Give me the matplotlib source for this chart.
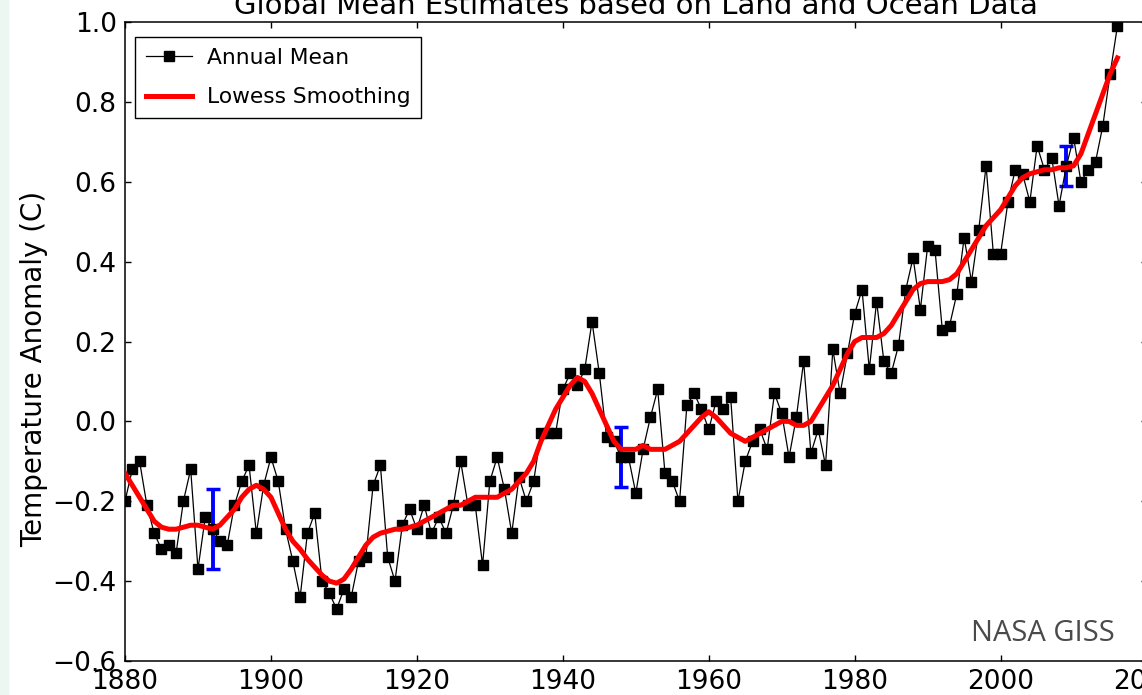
import matplotlib
matplotlib.use("Agg")
import matplotlib.pyplot as plt
from matplotlib.patches import Rectangle

# GISTEMP land-ocean annual means, 1880-2016 (deg C anomaly)
years = list(range(1880, 2017))
annual_mean = [
    -0.20, -0.12, -0.10, -0.21, -0.28, -0.32, -0.31, -0.33, -0.20, -0.12,
    -0.37, -0.24, -0.27, -0.30, -0.31, -0.21, -0.15, -0.11, -0.28, -0.16,
    -0.09, -0.15, -0.27, -0.35, -0.44, -0.28, -0.23, -0.40, -0.43, -0.47,
    -0.42, -0.44, -0.35, -0.34, -0.16, -0.11, -0.34, -0.40, -0.26, -0.22,
    -0.27, -0.21, -0.28, -0.24, -0.28, -0.21, -0.10, -0.21, -0.21, -0.36,
    -0.15, -0.09, -0.17, -0.28, -0.14, -0.20, -0.15, -0.03, -0.03, -0.03,
    0.08, 0.12, 0.09, 0.13, 0.25, 0.12, -0.04, -0.05, -0.09, -0.09,
    -0.18, -0.07, 0.01, 0.08, -0.13, -0.15, -0.20, 0.04, 0.07, 0.03,
    -0.02, 0.05, 0.03, 0.06, -0.20, -0.10, -0.05, -0.02, -0.07, 0.07,
    0.02, -0.09, 0.01, 0.15, -0.08, -0.02, -0.11, 0.18, 0.07, 0.17,
    0.27, 0.33, 0.13, 0.30, 0.15, 0.12, 0.19, 0.33, 0.41, 0.28,
    0.44, 0.43, 0.23, 0.24, 0.32, 0.46, 0.35, 0.48, 0.64, 0.42,
    0.42, 0.55, 0.63, 0.62, 0.55, 0.69, 0.63, 0.66, 0.54, 0.64,
    0.71, 0.60, 0.63, 0.65, 0.74, 0.87, 0.99,
]
lowess = [
    -0.13, -0.16, -0.19, -0.22, -0.25, -0.265, -0.27, -0.27, -0.265, -0.26,
    -0.26, -0.265, -0.27, -0.26, -0.24, -0.22, -0.19, -0.17, -0.16, -0.17,
    -0.19, -0.23, -0.27, -0.30, -0.32, -0.345, -0.365, -0.385, -0.40, -0.405,
    -0.395, -0.37, -0.34, -0.31, -0.29, -0.28, -0.275, -0.27, -0.27, -0.265,
    -0.26, -0.25, -0.24, -0.23, -0.22, -0.21, -0.21, -0.20, -0.19, -0.19,
    -0.19, -0.19, -0.18, -0.17, -0.15, -0.13, -0.10, -0.05, -0.01, 0.03,
    0.06, 0.09, 0.11, 0.10, 0.07, 0.03, -0.01, -0.05, -0.07, -0.07,
    -0.07, -0.06, -0.07, -0.07, -0.07, -0.06, -0.05, -0.03, -0.01, 0.01,
    0.024, 0.01, -0.01, -0.03, -0.04, -0.05, -0.04, -0.03, -0.02, -0.01,
    0.00, 0.00, -0.01, -0.01, 0.00, 0.03, 0.06, 0.09, 0.13, 0.17,
    0.20, 0.21, 0.21, 0.21, 0.22, 0.24, 0.27, 0.30, 0.33, 0.345,
    0.35, 0.35, 0.35, 0.355, 0.37, 0.40, 0.43, 0.46, 0.49, 0.51,
    0.53, 0.56, 0.59, 0.61, 0.62, 0.625, 0.63, 0.63, 0.635, 0.635,
    0.64, 0.67, 0.72, 0.77, 0.82, 0.87, 0.91,
]

# uncertainty bars at three epochs
err_years = [1892, 1948, 2009]
err_center = [-0.27, -0.09, 0.64]
err_size = [0.10, 0.075, 0.05]

x_ticks = [1880, 1900, 1920, 1940, 1960, 1980, 2000, 2020]
y_ticks = [-0.6, -0.4, -0.2, 0.0, 0.2, 0.4, 0.6, 0.8, 1.0]

W, H = 1142, 695
fig = plt.figure(figsize=(W / 100, H / 100), dpi=100)
fig.patches.append(Rectangle((0, 0), 8 / W, 1, transform=fig.transFigure,
                             color="#edf7f2", zorder=-1))
ax = fig.add_axes([125 / W, 34 / H, 1021.6 / W, 639 / H])

ax.errorbar(err_years, err_center, yerr=err_size, fmt="none", ecolor="blue",
            elinewidth=2.8, capsize=5, capthick=2.5, zorder=1)
ax.plot(years, annual_mean, color="black", lw=0.9, marker="s", ms=6.5,
        label="Annual Mean", zorder=2)
ax.plot(years, lowess, color="red", lw=3.6, label="Lowess Smoothing",
        zorder=3)

ax.set_xlim(1880, 2020)
ax.set_ylim(-0.6, 1.0)
ax.set_xticks(x_ticks)
ax.set_yticks(y_ticks)
ax.tick_params(direction="in", top=True, right=True, length=4.5, width=1,
               labelsize=19, pad=6)
for sp in ax.spines.values():
    sp.set_linewidth(1.1)

ax.set_title("Global Mean Estimates based on Land and Ocean Data",
             fontsize=21)
ax.set_ylabel("Temperature Anomaly (C)", fontsize=20)
ax.yaxis.set_label_coords(-0.075, 0.457)

ax.text(0.969, 0.031, "NASA GISS", transform=ax.transAxes, ha="right",
        va="baseline", fontsize=21, color="#4a4a4a", family="Open Sans")

leg = ax.legend(loc="upper left", bbox_to_anchor=(0.0098, 0.977),
                borderaxespad=0, numpoints=1, fontsize=15.7, fancybox=False,
                handlelength=2.1, handletextpad=0.7, borderpad=0.5,
                labelspacing=0.9, framealpha=1)
leg.get_frame().set_edgecolor("black")
leg.get_frame().set_linewidth(1.0)

fig.savefig("out.png", dpi=100)
